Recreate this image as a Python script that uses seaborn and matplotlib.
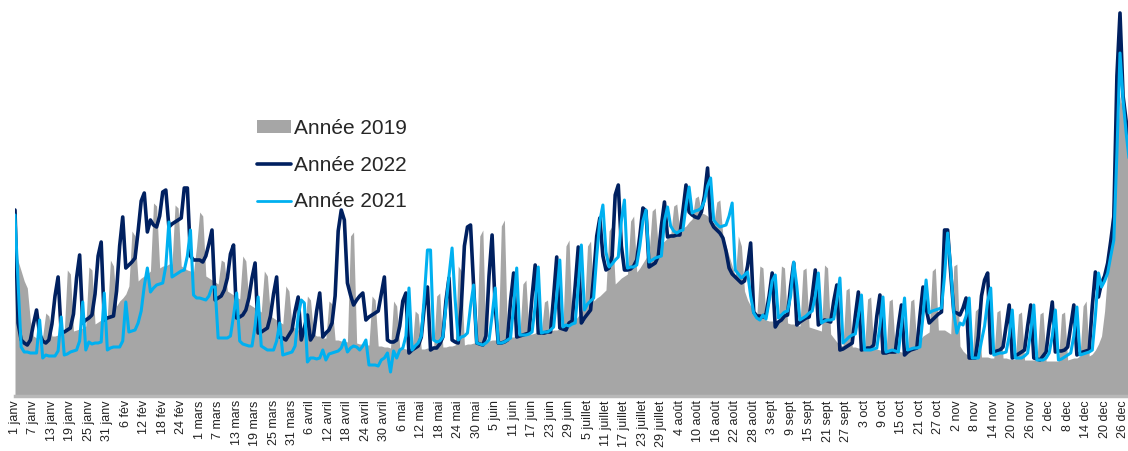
import matplotlib
matplotlib.use("Agg")
import matplotlib.pyplot as plt
import seaborn as sns
import numpy as np
import pandas as pd
from matplotlib.patches import Patch
from matplotlib.lines import Line2D

# x tick labels, one every 6 days
tick_labels = [
    "1 janv", "7 janv", "13 janv", "19 janv", "25 janv", "31 janv",
    "6 fév", "12 fév", "18 fév", "24 fév",
    "1 mars", "7 mars", "13 mars", "19 mars", "25 mars", "31 mars",
    "6 avril", "12 avril", "18 avril", "24 avril", "30 avril",
    "6 mai", "12 mai", "18 mai", "24 mai", "30 mai",
    "5 juin", "11 juin", "17 juin", "23 juin", "29 juin",
    "5 juillet", "11 juillet", "17 juillet", "23 juillet", "29 juillet",
    "4 août", "10 août", "16 août", "22 août", "28 août",
    "3 sept", "9 sept", "15 sept", "21 sept", "27 sept",
    "3 oct", "9 oct", "15 oct", "21 oct", "27 oct",
    "2 nov", "8 nov", "14 nov", "20 nov", "26 nov",
    "2 dec", "8 dec", "14 dec", "20 dec", "26 dec",
]

# daily values, rows of 7 days
annee_2022 = [
    186, 73, 56, 53, 51, 56, 72,
    86, 62, 55, 53, 56, 72, 100,
    119, 64, 64, 66, 68, 82, 118,
    141, 73, 76, 78, 81, 102, 140,
    154, 76, 78, 79, 80, 105, 150,
    179, 128, 131, 134, 138, 165, 195,
    203, 164, 176, 171, 169, 180, 204,
    206, 169, 172, 174, 176, 178, 208,
    208, 140, 136, 136, 136, 134, 140,
    152, 166, 96, 98, 100, 106, 118,
    142, 151, 78, 79, 81, 86, 98,
    118, 133, 63, 64, 66, 68, 80,
    102, 119, 59, 58, 56, 61, 66,
    85, 99, 56, 68, 81, 56, 61,
    85, 103, 59, 63, 66, 73, 100,
    165, 186, 176, 113, 101, 91, 96,
    100, 103, 76, 79, 81, 83, 85,
    102, 119, 56, 54, 54, 56, 70,
    95, 103, 43, 46, 48, 50, 59,
    90, 109, 46, 48, 48, 52, 59,
    95, 118, 56, 54, 53, 90, 150,
    169, 171, 110, 53, 52, 51, 60,
    120, 161, 90, 53, 53, 54, 56,
    95, 123, 59, 60, 61, 62, 63,
    100, 131, 63, 63, 63, 64, 64,
    100, 139, 68, 67, 66, 73, 75,
    110, 149, 73, 78, 82, 86, 120,
    160, 178, 140, 126, 128, 140, 201,
    211, 150, 126, 126, 127, 130, 136,
    160, 188, 185, 129, 131, 133, 140,
    170, 194, 159, 160, 160, 161, 161,
    185, 211, 184, 181, 179, 178, 184,
    200, 228, 175, 169, 166, 163, 158,
    145, 128, 122, 119, 116, 113, 115,
    130, 153, 84, 80, 80, 79, 82,
    100, 123, 69, 74, 76, 80, 81,
    110, 133, 71, 74, 76, 78, 79,
    100, 126, 71, 74, 76, 75, 74,
    95, 111, 46, 47, 49, 51, 53,
    80, 104, 46, 47, 48, 48, 51,
    80, 101, 43, 43, 44, 44, 44,
    70, 91, 41, 44, 46, 47, 48,
    80, 109, 88, 73, 76, 79, 82,
    84, 166, 166, 123, 84, 83, 81,
    88, 98, 38, 38, 38, 60, 100,
    116, 123, 43, 44, 45, 46, 49,
    70, 91, 38, 40, 42, 44, 46,
    70, 91, 38, 37, 36, 40, 44,
    70, 94, 44, 45, 45, 46, 49,
    70, 91, 41, 43, 44, 45, 46,
    90, 124, 99, 113, 120, 133, 155,
    179, 320, 383, 300, 275, 256,
]

annee_2021 = [
    181, 113, 49, 44, 44, 43, 43,
    43, 76, 38, 41, 40, 40, 40,
    45, 79, 41, 42, 44, 45, 46,
    55, 94, 46, 54, 52, 53, 53,
    54, 103, 46, 48, 49, 49, 49,
    55, 94, 64, 65, 66, 73, 85,
    110, 128, 104, 108, 111, 112, 113,
    130, 174, 119, 121, 123, 125, 126,
    140, 166, 101, 98, 98, 97, 96,
    100, 109, 109, 58, 58, 58, 58,
    60, 80, 103, 55, 52, 51, 50,
    50, 70, 99, 50, 48, 46, 46,
    46, 55, 73, 41, 42, 43, 44,
    50, 80, 96, 93, 34, 38, 38,
    37, 38, 46, 36, 42, 43, 44,
    45, 48, 56, 44, 48, 50, 49,
    46, 50, 56, 31, 31, 31, 30,
    36, 38, 43, 24, 45, 38, 46,
    48, 60, 108, 46, 50, 53, 60,
    100, 146, 146, 56, 54, 55, 59,
    90, 120, 148, 96, 56, 59, 60,
    63, 90, 111, 53, 52, 51, 53,
    56, 80, 108, 53, 53, 54, 56,
    58, 90, 128, 61, 61, 61, 62,
    64, 90, 129, 63, 64, 64, 66,
    69, 100, 136, 69, 71, 70, 72,
    73, 110, 151, 86, 92, 95, 98,
    140, 175, 191, 144, 129, 132, 136,
    139, 175, 196, 128, 129, 129, 131,
    150, 175, 186, 134, 136, 138, 139,
    140, 175, 189, 170, 165, 163, 165,
    166, 190, 209, 183, 185, 186, 188,
    195, 210, 218, 176, 172, 169, 170,
    171, 180, 193, 126, 122, 118, 121,
    124, 100, 83, 78, 76, 81, 77,
    95, 115, 121, 78, 81, 84, 85,
    100, 134, 110, 76, 78, 80, 83,
    85, 100, 123, 73, 75, 76, 76,
    77, 95, 118, 53, 56, 59, 61,
    62, 80, 101, 46, 46, 46, 47,
    48, 70, 99, 44, 45, 46, 45,
    44, 70, 98, 46, 47, 48, 48,
    49, 80, 116, 83, 85, 86, 87,
    88, 120, 163, 129, 83, 63, 73,
    71, 80, 98, 38, 38, 38, 55,
    70, 95, 108, 41, 42, 43, 43,
    44, 60, 86, 38, 38, 38, 40,
    43, 65, 91, 36, 36, 36, 38,
    43, 60, 86, 36, 37, 39, 41,
    43, 60, 89, 41, 42, 43, 44,
    46, 80, 123, 109, 115, 123, 140,
    156, 243, 343, 296, 263, 236,
]

annee_2019 = [
    149, 135, 125, 115, 108, 75, 60,
    58, 58, 60, 83, 80, 60, 60,
    61, 62, 64, 126, 122, 65, 66,
    67, 68, 70, 129, 126, 72, 74,
    76, 78, 80, 136, 130, 90, 95,
    98, 102, 110, 165, 160, 115, 118,
    120, 122, 125, 193, 190, 128, 130,
    130, 132, 132, 191, 188, 130, 128,
    126, 125, 124, 150, 184, 180, 120,
    118, 116, 114, 112, 136, 134, 105,
    103, 101, 99, 97, 140, 135, 92,
    90, 88, 86, 84, 125, 120, 80,
    78, 76, 74, 72, 110, 105, 70,
    68, 66, 65, 64, 100, 96, 62,
    60, 60, 58, 58, 95, 92, 56,
    56, 55, 55, 54, 160, 164, 53,
    52, 52, 51, 51, 100, 96, 50,
    50, 49, 49, 48, 95, 90, 48,
    48, 47, 47, 47, 85, 82, 47,
    47, 48, 48, 48, 100, 103, 49,
    49, 50, 50, 51, 130, 125, 51,
    52, 52, 53, 53, 160, 166, 54,
    55, 56, 56, 57, 170, 176, 58,
    59, 59, 60, 61, 112, 116, 62,
    62, 63, 64, 64, 94, 96, 65,
    66, 66, 67, 68, 150, 156, 72,
    76, 80, 84, 88, 150, 155, 95,
    98, 100, 103, 106, 165, 170, 112,
    115, 118, 120, 122, 175, 180, 124,
    128, 133, 138, 143, 185, 188, 148,
    152, 155, 158, 160, 190, 192, 165,
    168, 170, 174, 177, 198, 200, 183,
    182, 180, 175, 172, 194, 196, 160,
    150, 140, 130, 120, 160, 150, 105,
    96, 90, 85, 80, 130, 128, 76,
    75, 75, 74, 74, 130, 128, 73,
    72, 72, 71, 70, 126, 128, 69,
    68, 67, 66, 65, 131, 128, 62,
    58, 54, 51, 50, 106, 108, 49,
    49, 48, 48, 48, 97, 99, 47,
    47, 46, 46, 45, 95, 97, 45,
    45, 44, 44, 44, 95, 97, 50,
    56, 60, 62, 64, 125, 128, 66,
    66, 66, 64, 62, 130, 132, 50,
    45, 42, 40, 40, 85, 88, 39,
    39, 39, 38, 38, 84, 86, 38,
    38, 37, 37, 37, 82, 84, 36,
    36, 36, 36, 35, 82, 84, 35,
    35, 35, 35, 35, 82, 84, 36,
    37, 38, 38, 40, 90, 95, 40,
    42, 46, 52, 60, 85, 125, 170,
    215, 250, 300, 285, 262, 246,
]

df = pd.DataFrame({
    "jour": np.arange(len(annee_2022)),
    "2019": annee_2019,
    "2022": annee_2022,
    "2021": annee_2021,
})

sns.set_style("white")
plt.rcParams["font.family"] = ["Liberation Sans", "DejaVu Sans"]

fig = plt.figure(figsize=(11.28, 4.51), dpi=100)
ax = fig.add_axes([15 / 1128, 55 / 451, 1113 / 1128, 396 / 451])

ax.fill_between(df["jour"], df["2019"], color="#a6a6a6", lw=0)
sns.lineplot(data=df, x="jour", y="2022", color="#002060", lw=2.6, ax=ax)
sns.lineplot(data=df, x="jour", y="2021", color="#00b0f0", lw=2.2, ax=ax)

ax.set_xlim(0, 361.6)
ax.set_ylim(0, 396)
ax.set_xticks(np.arange(0, 361, 6))
ax.set_xticklabels(tick_labels, rotation=90, fontsize=9, color="#222222")
ax.tick_params(axis="x", length=0, pad=3)
ax.set_yticks([])
ax.set_xlabel("")
ax.set_ylabel("")
for s in ["top", "right", "left"]:
    ax.spines[s].set_visible(False)
ax.spines["bottom"].set_color("#b8b8b8")
ax.spines["bottom"].set_linewidth(2.5)

handles = [
    Patch(facecolor="#a6a6a6", edgecolor="none"),
    Line2D([], [], color="#002060", lw=2.6),
    Line2D([], [], color="#00b0f0", lw=2.0),
]
labels = ["Année 2019", "Année 2022", "Année 2021"]
fig.legend(handles, labels, loc="upper left",
           bbox_to_anchor=(257 / 1128, 1 - 119 / 451),
           frameon=False, fontsize=15, handlelength=1.65,
           handleheight=0.55, handletextpad=0.12, labelspacing=0.85,
           borderpad=0, borderaxespad=0)

fig.savefig("out.png", dpi=100)
